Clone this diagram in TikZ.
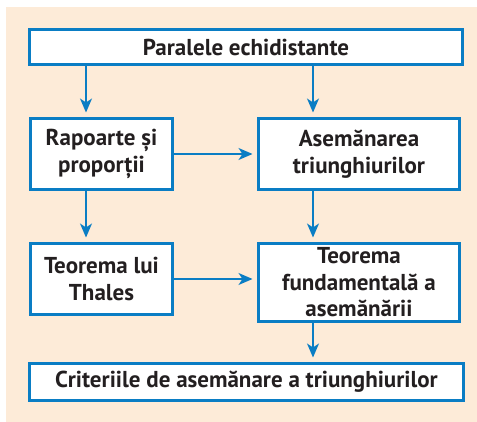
\documentclass[tikz,border=0pt]{standalone}
\usepackage{fontspec}
\setmainfont{PT Sans}
\usepackage{tikz}
\usetikzlibrary{positioning,arrows.meta}
\definecolor{bleu}{HTML}{0A7DC4}
\definecolor{crem}{HTML}{FDEBD8}
\definecolor{txt}{HTML}{231F20}

\begin{document}
\begin{tikzpicture}[
  x=1pt, y=-1pt,
  font=\fontsize{23}{26.5}\selectfont\bfseries,
  bx/.style  ={draw=bleu, line width=3pt, fill=white, align=center, inner sep=0pt,
               text=txt},
  ar/.style  ={-{Stealth[length=14pt,width=12pt,inset=4pt]}, line width=1.3pt,
               draw=bleu, shorten >=4.5pt},
]
\useasboundingbox (0,0) rectangle (477,422);
\fill[crem] (6,7) rectangle (477,422);

% ---- columns of the vertical arrows ----
\coordinate (lx) at (86,0);
\coordinate (rx) at (313,0);

% ---- boxes ----
\node[bx, minimum width=433pt, minimum height=35pt] (par) at (246,47)   {Paralele echidistante};
\node[bx, minimum width=142pt, minimum height=71pt] (rap) at (101.5,154) {Rapoarte și\\ proporții};
\node[bx, minimum width=201pt, minimum height=71pt] (ase) at (359,154)   {Asemănarea\\ triunghiurilor};
\node[bx, minimum width=142pt, minimum height=71pt] (tha) at (101.5,279) {Teorema lui\\ Thales};
\node[bx, minimum width=201pt, minimum height=78pt] (tfa) at (359,282.5) {Teorema\\ fundamentală a\\ asemănării};
\node[bx, minimum width=434pt, minimum height=37pt] (cri) at (246.5,382) {Criteriile de asemănare a triunghiurilor};

% ---- edges ----
\draw[ar] (par.south -| lx) -- (rap.north -| lx);
\draw[ar] (par.south -| rx) -- (ase.north -| rx);
\draw[ar] (rap) -- (ase);
\draw[ar] (rap.south -| lx) -- (tha.north -| lx);
\draw[ar] (ase.south -| rx) -- (tfa.north -| rx);
\draw[ar] (tha.east) -- (tha.east -| tfa.west);
\draw[ar] (tfa.south -| rx) -- (cri.north -| rx);
\end{tikzpicture}
\end{document}
